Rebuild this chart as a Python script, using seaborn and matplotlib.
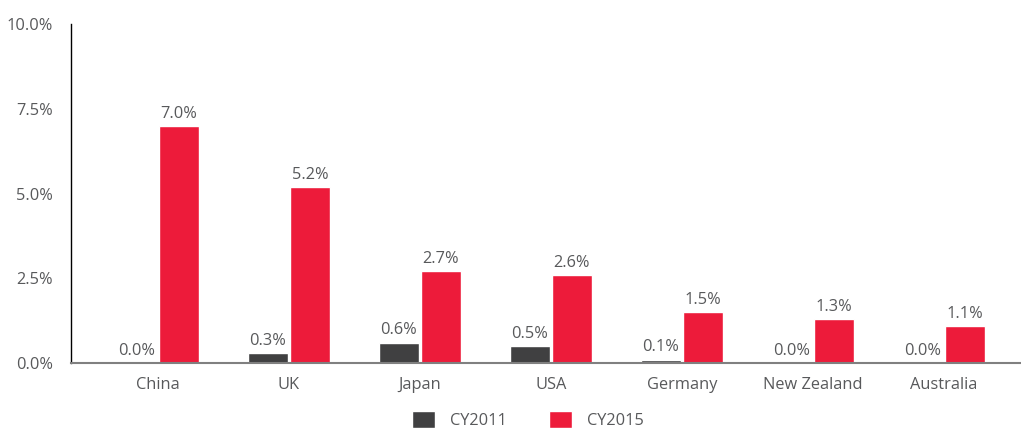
import matplotlib
matplotlib.use("Agg")
import matplotlib.pyplot as plt
import seaborn as sns
import pandas as pd
from matplotlib.patches import Patch

countries = ["China", "UK", "Japan", "USA", "Germany", "New Zealand", "Australia"]
cy2011 = [0.0, 0.3, 0.6, 0.5, 0.1, 0.0, 0.0]
cy2015 = [7.0, 5.2, 2.7, 2.6, 1.5, 1.3, 1.1]
series = ["CY2011", "CY2015"]
yticks = [0.0, 2.5, 5.0, 7.5, 10.0]

sns.set_theme(style="white")
plt.rcParams['font.family'] = ['Open Sans', 'DejaVu Sans']

df = pd.DataFrame({
    "Country": countries * 2,
    "Series": [series[0]] * len(countries) + [series[1]] * len(countries),
    "Value": cy2011 + cy2015,
})

colors = {"CY2011": "#404041", "CY2015": "#ED1B3A"}
text_color = "#58595B"
fs = 11.8

fig = plt.figure(figsize=(10.21, 4.28), dpi=100)
ax = fig.add_axes([71/1021, 1-363/428, 1-71/1021, (363-24)/428])

sns.barplot(data=df, x="Country", y="Value", hue="Series", palette=colors,
            width=0.64, gap=0.05, ax=ax, legend=False, saturation=1)

for c in ax.containers:
    ax.bar_label(c, labels=[f"{v:.1f}%" for v in c.datavalues], padding=3,
                 fontsize=fs, color=text_color)

ax.set_ylim(0, 10)
ax.set_yticks(yticks)
ax.set_yticklabels([f"{v:.1f}%" for v in yticks])
ax.set_xlim(-0.664, 6.59)
ax.set_xlabel("")
ax.set_ylabel("")
ax.tick_params(axis="both", length=0, labelsize=fs, labelcolor=text_color)
ax.tick_params(axis="x", pad=10)
ax.tick_params(axis="y", pad=13)

for s in ["top", "right"]:
    ax.spines[s].set_visible(False)
ax.spines["left"].set_color("black")
ax.spines["left"].set_linewidth(1)
ax.spines["bottom"].set_color("#808080")
ax.spines["bottom"].set_linewidth(1.5)

handles = [Patch(facecolor=colors[s], label=s) for s in series]
fig.legend(handles=handles, loc="center", bbox_to_anchor=(528/1021, 1-420/428),
           ncol=2, frameon=False, fontsize=fs, handlelength=1.4, handleheight=1.2,
           columnspacing=2.6, handletextpad=0.9, labelcolor=text_color)

fig.savefig("out.png", dpi=100)
